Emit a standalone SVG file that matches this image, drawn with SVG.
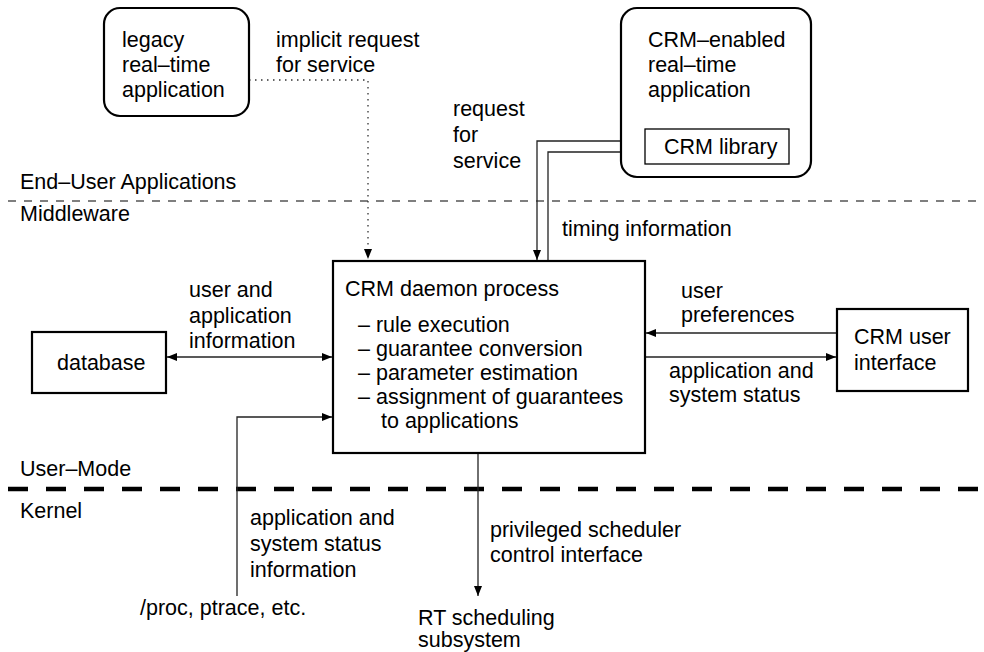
<svg xmlns="http://www.w3.org/2000/svg" width="984" height="652" viewBox="0 0 984 652">
  <style>
    text { font-family: "Liberation Sans", Arial, sans-serif; font-size: 21.5px; fill: #000; }
    .box { fill: #fff; stroke: #000; stroke-width: 2.2; }
    .thin { fill: #fff; stroke: #000; stroke-width: 1.3; }
    .conn { fill: none; stroke: #222; stroke-width: 1.3; }
    .dot { fill: none; stroke: #333; stroke-width: 1.3; stroke-dasharray: 1.5 4.5; }
    .layer { fill: none; stroke: #555; stroke-width: 1.3; stroke-dasharray: 8 8; }
    .kernel { fill: none; stroke: #000; stroke-width: 4.5; stroke-dasharray: 20 18; }
  </style>
  <defs>
    <marker id="arr" viewBox="0 0 10 8" refX="10" refY="4" markerWidth="10" markerHeight="8" markerUnits="userSpaceOnUse" orient="auto-start-reverse">
      <path d="M0,0 L10,4 L0,8 Z" fill="#000"/>
    </marker>
  </defs>

  <!-- layer separators -->
  <g id="layers">
    <line class="layer" x1="8" y1="201" x2="984" y2="201"/>
    <line class="kernel" x1="8" y1="489" x2="984" y2="489"/>
    <text x="20" y="189">End–User Applications</text>
    <text x="20" y="221">Middleware</text>
    <text x="20" y="476">User–Mode</text>
    <text x="20" y="518">Kernel</text>
  </g>

  <!-- connectors -->
  <g id="connectors">
    <polyline class="dot" points="249,80 368,80 368,259" marker-end="url(#arr)"/>
    <polyline class="conn" points="645,141 537,141 537,260" marker-end="url(#arr)"/>
    <polyline class="conn" points="548,261 548,152 644,152" marker-end="url(#arr)"/>
    <line class="conn" x1="167" y1="357" x2="332" y2="357" marker-start="url(#arr)" marker-end="url(#arr)"/>
    <polyline class="conn" points="237,596 237,417 332,417" marker-end="url(#arr)"/>
    <line class="conn" x1="837" y1="333" x2="646" y2="333" marker-end="url(#arr)"/>
    <line class="conn" x1="646" y1="357" x2="836" y2="357" marker-end="url(#arr)"/>
    <line class="conn" x1="478" y1="454" x2="478" y2="596" marker-end="url(#arr)"/>
  </g>

  <!-- connector labels -->
  <g id="labels">
    <text x="276" y="47">implicit request</text>
    <text x="276" y="72">for service</text>
    <text x="453" y="116">request</text>
    <text x="453" y="142">for</text>
    <text x="453" y="168">service</text>
    <text x="562" y="236">timing information</text>
    <text x="189" y="297">user and</text>
    <text x="189" y="323">application</text>
    <text x="189" y="348">information</text>
    <text x="681" y="298">user</text>
    <text x="681" y="322">preferences</text>
    <text x="669" y="378">application and</text>
    <text x="669" y="402">system status</text>
    <text x="250" y="525">application and</text>
    <text x="250" y="551">system status</text>
    <text x="250" y="577">information</text>
    <text x="490" y="537">privileged scheduler</text>
    <text x="490" y="562">control interface</text>
  </g>

  <g id="legacy-app">
    <rect class="box" x="104" y="8" width="145" height="108" rx="16"/>
    <text x="122" y="47">legacy</text>
    <text x="122" y="72">real–time</text>
    <text x="122" y="97">application</text>
  </g>

  <g id="crm-app">
    <rect class="box" x="621" y="8" width="190" height="169" rx="16"/>
    <text x="648" y="47">CRM–enabled</text>
    <text x="648" y="72">real–time</text>
    <text x="648" y="97">application</text>
  </g>

  <g id="crm-library">
    <rect class="thin" x="645" y="129" width="144" height="35"/>
    <text x="664" y="154">CRM library</text>
  </g>

  <g id="daemon">
    <rect class="box" x="333" y="261" width="312" height="192"/>
    <text x="345" y="296">CRM daemon process</text>
    <text x="358" y="332">– rule execution</text>
    <text x="358" y="356">– guarantee conversion</text>
    <text x="358" y="380">– parameter estimation</text>
    <text x="358" y="404">– assignment of guarantees</text>
    <text x="381" y="428">to applications</text>
  </g>

  <g id="database">
    <rect class="box" x="32" y="332" width="134" height="61"/>
    <text x="57" y="370">database</text>
  </g>

  <g id="user-interface">
    <rect class="box" x="837" y="309" width="131" height="82"/>
    <text x="854" y="344">CRM user</text>
    <text x="854" y="370">interface</text>
  </g>

  <g id="proc">
    <text x="140" y="615">/proc, ptrace, etc.</text>
  </g>

  <g id="rt-sched">
    <text x="418" y="625">RT scheduling</text>
    <text x="418" y="647">subsystem</text>
  </g>
</svg>
